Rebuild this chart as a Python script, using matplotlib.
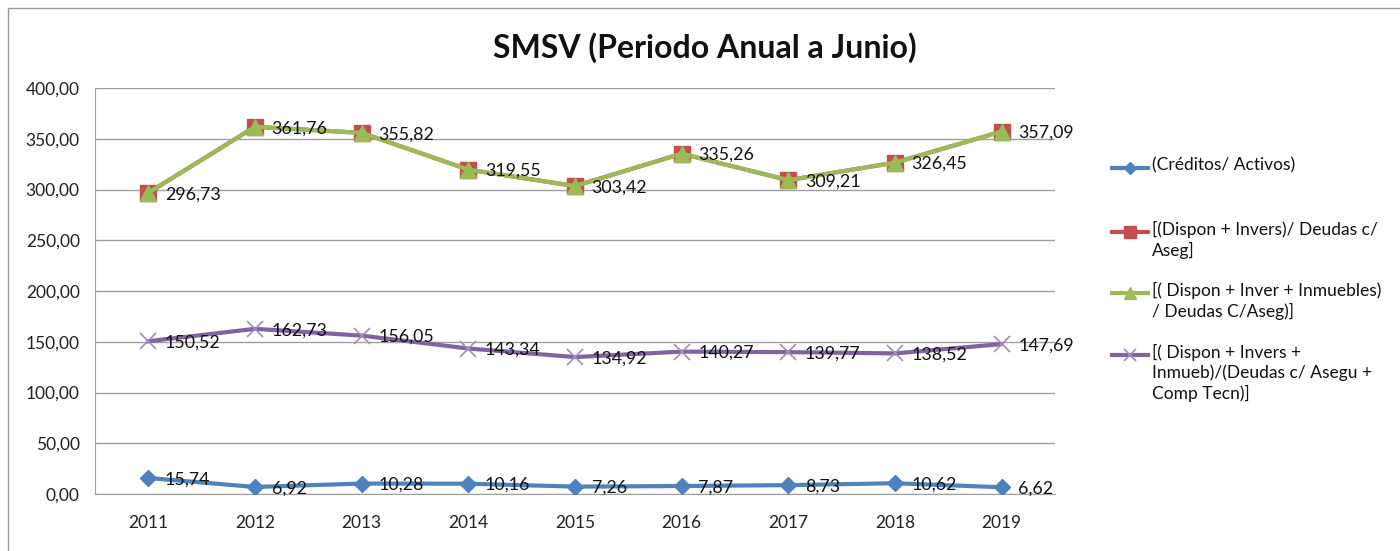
import matplotlib
matplotlib.use("Agg")
import matplotlib.pyplot as plt
from matplotlib.ticker import FuncFormatter
from matplotlib.patches import Rectangle
from matplotlib.lines import Line2D

years = ["2011", "2012", "2013", "2014", "2015", "2016", "2017", "2018", "2019"]
creditos = [15.74, 6.92, 10.28, 10.16, 7.26, 7.87, 8.73, 10.62, 6.62]
dispon_invers = [296.73, 361.76, 355.82, 319.55, 303.42, 335.26, 309.21, 326.45, 357.09]
dispon_inver_inm = [296.73, 361.76, 355.82, 319.55, 303.42, 335.26, 309.21, 326.45, 357.09]
dispon_comp = [150.52, 162.73, 156.05, 143.34, 134.92, 140.27, 139.77, 138.52, 147.69]

labels = [
    "(Créditos/ Activos)",
    "[(Dispon + Invers)/ Deudas c/\nAseg]",
    "[( Dispon + Inver + Inmuebles)\n/ Deudas C/Aseg)]",
    "[( Dispon + Invers +\nInmueb)/(Deudas c/ Asegu +\nComp Tecn)]",
]

plt.rcParams['font.family'] = ['Lato', 'DejaVu Sans']

W, H = 1400, 551
fig = plt.figure(figsize=(14, 5.51), dpi=100)
fig.patches.append(Rectangle((8/W, -0.01), 1.0, 1 - 8/H + 0.01, transform=fig.transFigure,
                             fill=False, edgecolor='#9a9a9a', lw=1))
ax = fig.add_axes([95/W, 1 - 494/H, 960/W, (494 - 88)/H])

styles = [
    dict(color='#4F81BD', marker='D', ms=8),
    dict(color='#C0504D', marker='s', ms=11),
    dict(color='#9BBB59', marker='^', ms=11),
    dict(color='#8064A2', marker='x', ms=11, mew=1.2, markeredgecolor='#a08cc0'),
]
series_list = [creditos, dispon_invers, dispon_inver_inm, dispon_comp]
zs = [3, 3, 4, 3]

x = list(range(len(years)))
for s, st, z in zip(series_list, styles, zs):
    ax.plot(x, s, lw=3, zorder=z, **st)

def fmt(v):
    return f"{v:.2f}".replace(".", ",")

for series in (creditos, dispon_inver_inm, dispon_comp):
    for xi, v in zip(x, series):
        ax.annotate(fmt(v), (xi, v), xytext=(12, -1), textcoords='offset points',
                    ha='left', va='center', fontsize=12.8, color='#111111', zorder=5)

ax.set_xlim(-0.5, 8.5)
ax.set_ylim(0, 400)
ax.set_yticks(range(0, 401, 50))
ax.yaxis.set_major_formatter(FuncFormatter(lambda v, p: fmt(v)))
ax.set_xticks(x)
ax.set_xticklabels(years)
ax.tick_params(axis='both', length=0, labelsize=12.5, colors='#222222')
ax.tick_params(axis='x', pad=15)
ax.tick_params(axis='y', pad=11)
ax.grid(axis='y', color='#a0a0a0', lw=1)
ax.set_axisbelow(True)
for s in ('top', 'right'):
    ax.spines[s].set_visible(False)
for s in ('left', 'bottom'):
    ax.spines[s].set_color('#a0a0a0')

fig.text(705/W, 1 - 48/H, "SMSV (Periodo Anual a Junio)", ha='center', va='center',
         fontsize=23, fontweight='bold', color='#111111')

# Legend drawn manually: handle aligned with first text line (as in the reference)
leg_y = [168, 232, 293, 355]
for yy, lab, st in zip(leg_y, labels, styles):
    yf = 1 - yy / H
    fig.add_artist(Line2D([1112/W, 1148/W], [yf, yf], transform=fig.transFigure,
                          lw=3, color=st['color']))
    st2 = dict(st)
    st2['ms'] = st['ms'] * 0.8
    fig.add_artist(Line2D([1130/W], [yf], transform=fig.transFigure, lw=0, **st2))
    fig.text(1152/W, 1 - (yy - 11) / H, lab, ha='left', va='top', fontsize=12.5,
             linespacing=1.27, color='#111111')

fig.savefig("out.png", dpi=100)
